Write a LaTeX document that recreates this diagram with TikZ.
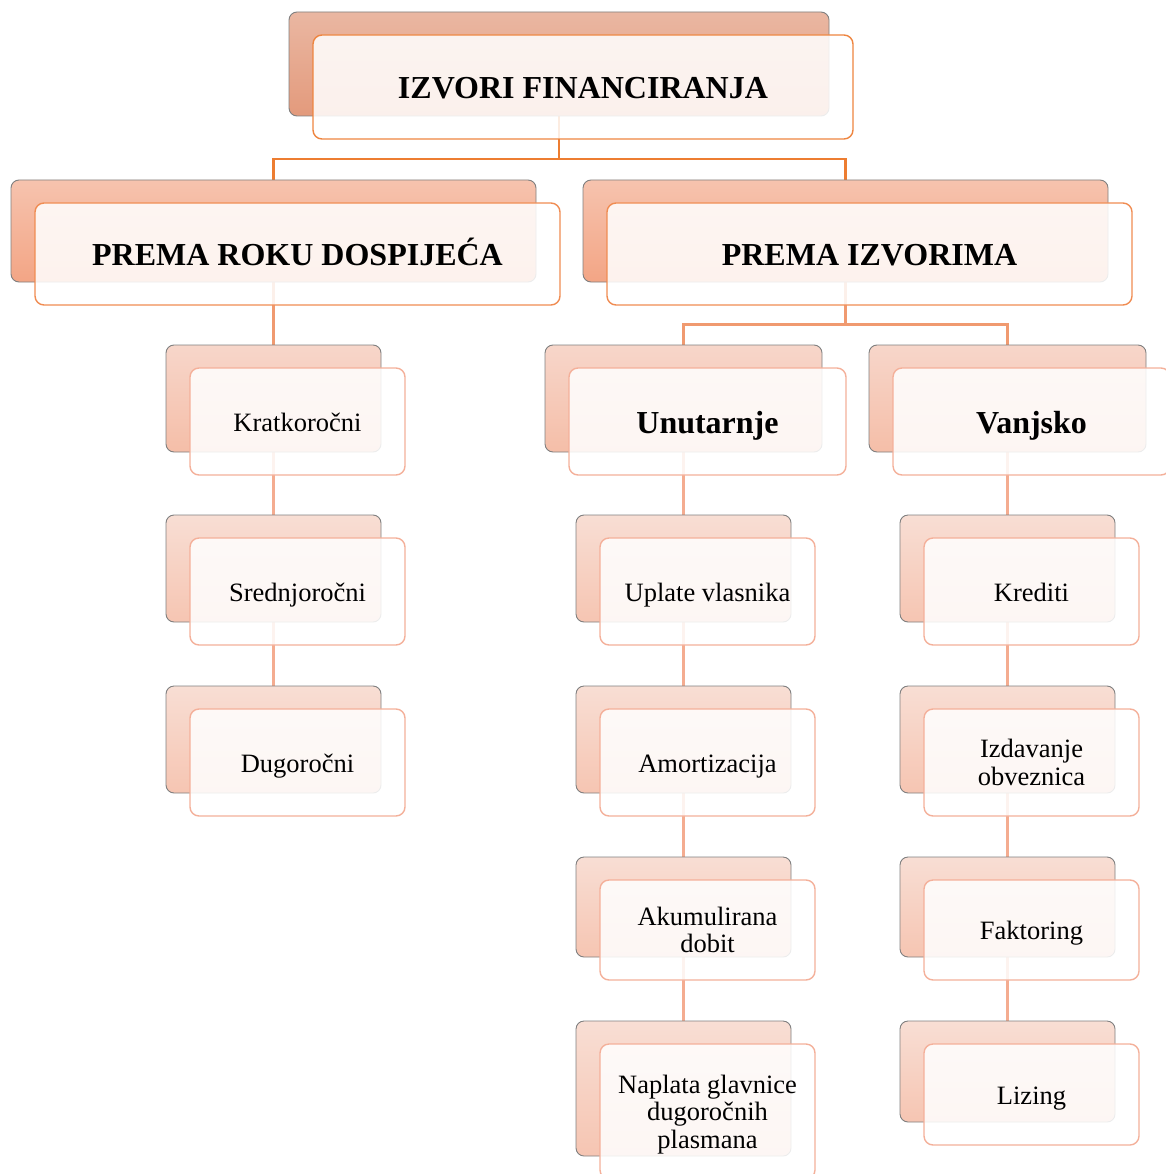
\documentclass[tikz,border=0pt]{standalone}
\usepackage{fontspec}
\setmainfont{Liberation Serif}
\usetikzlibrary{calc}
\pgfdeclarelayer{bg}
\pgfsetlayers{bg,main}
\definecolor{bkAt}{HTML}{EAB7A2}\definecolor{bkAb}{HTML}{E39A7C}
\definecolor{bkBt}{HTML}{F6C3AE}\definecolor{bkBb}{HTML}{F3A585}
\definecolor{bkCt}{HTML}{F7D6CA}\definecolor{bkCb}{HTML}{F5BEA8}
\definecolor{bkDt}{HTML}{F8DED4}\definecolor{bkDb}{HTML}{F6C5B2}
\definecolor{frA}{HTML}{EE8540}\definecolor{frB}{HTML}{F08C52}
\definecolor{frC}{HTML}{F4B09A}
\definecolor{lnA}{HTML}{ED7D31}\definecolor{lnB}{HTML}{F09A70}
\definecolor{lnC}{HTML}{F4AC90}
\definecolor{bkline}{HTML}{7F7F7F}
\tikzset{
  backbox/.style={rectangle, rounded corners=8pt, draw=bkline, line width=0.9pt, inner sep=0pt, outer sep=0pt},
  frontbox/.style={rectangle, rounded corners=9pt, fill=white, fill opacity=0.86, text opacity=1, line width=1.4pt, inner sep=0pt, outer sep=0pt, align=center},
  bkA/.style={top color=bkAt, bottom color=bkAb},
  bkB/.style={top color=bkBt, bottom color=bkBb},
  bkC/.style={top color=bkCt, bottom color=bkCb},
  bkD/.style={top color=bkDt, bottom color=bkDb},
  frontA/.style={draw=frA},
  frontB/.style={draw=frB},
  frontC/.style={draw=frC},
  hdr/.style={font=\fontsize{32}{36}\selectfont\bfseries, text height=23pt, text depth=0pt},
  itm/.style={font=\fontsize{26.5}{27.5}\selectfont, text height=19.5pt, text depth=0pt},
  itmm/.style={font=\fontsize{26.5}{27.5}\selectfont},
  connA/.style={draw=lnA, line width=2.4pt},
  connB/.style={draw=lnB, line width=2.2pt},
  connC/.style={draw=lnC, line width=2.2pt},
}
% #1 name, #2 cx, #3 cy, #4 w, #5 h, #6 back style, #7 front style, #8 text style, #9 text
\newcommand{\pairbox}[9]{%
  \node[backbox, #6, minimum width=#4, minimum height=#5] (#1b) at (#2,#3) {};
  \node[frontbox, #7, minimum width=#4, minimum height=#5, #8] (#1) at ($(#1b)+(24,23)$) {#9};
}
\begin{document}
\begin{tikzpicture}[x=1pt,y=-1pt]
\useasboundingbox (0,0) rectangle (1165,1174);
\pairbox{top}{559}{64}{540}{104}{bkA}{frontA}{hdr}{IZVORI FINANCIRANJA}
\pairbox{rok}{273.5}{231}{525}{102}{bkB}{frontB}{hdr}{PREMA ROKU DOSPIJEĆA}
\pairbox{izv}{845.5}{231}{525}{102}{bkB}{frontB}{hdr}{PREMA IZVORIMA}
\pairbox{kra}{273.5}{398.5}{215}{107}{bkC}{frontC}{itm}{Kratkoročni}
\pairbox{sre}{273.5}{568.5}{215}{107}{bkD}{frontC}{itm}{Srednjoročni}
\pairbox{dug}{273.5}{739.5}{215}{107}{bkD}{frontC}{itm}{Dugoročni}
\pairbox{unu}{683.5}{398.5}{277}{107}{bkC}{frontC}{hdr}{Unutarnje}
\pairbox{van}{1007.5}{398.5}{277}{107}{bkC}{frontC}{hdr}{Vanjsko}
\pairbox{upl}{683.5}{568.5}{215}{107}{bkD}{frontC}{itm}{Uplate vlasnika}
\pairbox{amo}{683.5}{739.5}{215}{107}{bkD}{frontC}{itm}{Amortizacija}
\pairbox{aku}{683.5}{907}{215}{100}{bkD}{frontC}{itmm}{Akumulirana\\dobit}
\pairbox{nap}{683.5}{1088.5}{215}{135}{bkD}{frontC}{itmm, text depth=0pt}{Naplata glavnice\\dugoročnih\\plasmana}
\pairbox{kre}{1007.5}{568.5}{215}{107}{bkD}{frontC}{itm}{Krediti}
\pairbox{izd}{1007.5}{739.5}{215}{107}{bkD}{frontC}{itmm}{Izdavanje\\obveznica}
\pairbox{fak}{1007.5}{907}{215}{100}{bkD}{frontC}{itm}{Faktoring}
\pairbox{liz}{1007.5}{1071.5}{215}{101}{bkD}{frontC}{itm}{Lizing}
\begin{pgfonlayer}{bg}
  \coordinate (busA) at (559,159);
  \coordinate (busB) at (845.5,324.5);
  \draw[connA] (topb.south) -- (busA) -| (rokb.north);
  \draw[connA] (busA) -| (izvb.north);
  \draw[connB] (rokb.south) -- (krab.north);
  \draw[connB] (izvb.south) -- (busB) -| (unub.north);
  \draw[connB] (busB) -| (vanb.north);
  \draw[connC] (krab.south) -- (sreb.north);
  \draw[connC] (sreb.south) -- (dugb.north);
  \draw[connC] (unub.south) -- (uplb.north);
  \draw[connC] (uplb.south) -- (amob.north);
  \draw[connC] (amob.south) -- (akub.north);
  \draw[connC] (akub.south) -- (napb.north);
  \draw[connC] (vanb.south) -- (kreb.north);
  \draw[connC] (kreb.south) -- (izdb.north);
  \draw[connC] (izdb.south) -- (fakb.north);
  \draw[connC] (fakb.south) -- (lizb.north);
\end{pgfonlayer}
\end{tikzpicture}
\end{document}
